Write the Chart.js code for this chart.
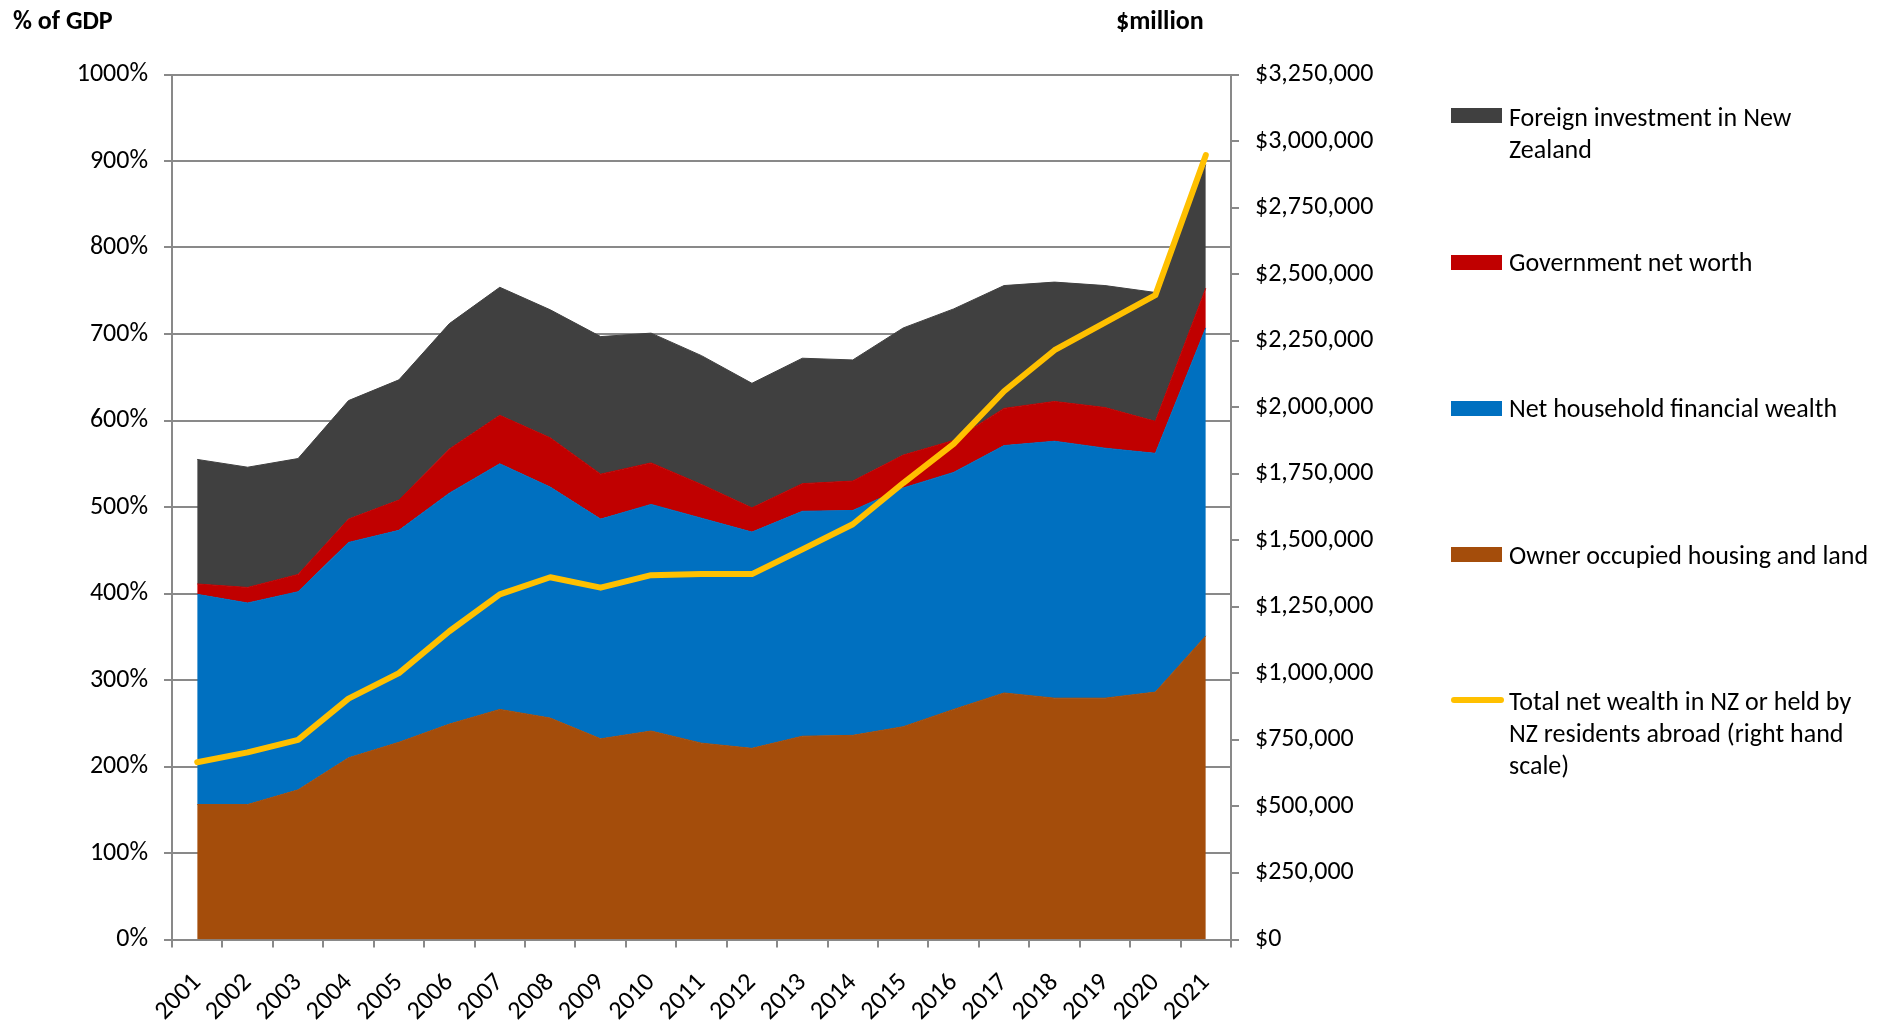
<!DOCTYPE html>
<html>
<head>
<meta charset="utf-8">
<script src="https://cdn.jsdelivr.net/npm/chart.js@4.4.1/dist/chart.umd.min.js"></script>
<style>
    body { margin: 0; background: #fff; }
    #wrap { position: relative; width: 1883px; height: 1024px; font-family: Carlito, "Liberation Sans Narrow", "Open Sans", sans-serif; color: #000; }
    #chart { position: absolute; left: 0; top: 0; }
    .title { position: absolute; top: 4px; font-size: 26px; line-height: 32px; font-weight: bold; }
    .leg-box { position: absolute; left: 1451px; width: 51px; height: 15px; }
    .leg-line { position: absolute; left: 1451px; width: 53px; height: 6px; border-radius: 3px; background: #FFC000; }
    .leg-text { position: absolute; left: 1509px; font-size: 26px; line-height: 32px; white-space: nowrap; }
</style>
</head>
<body>
<div id="wrap">
    <canvas id="chart" width="1883" height="1024"></canvas>
    <div class="title" style="left:13px">% of GDP</div>
    <div class="title" style="left:1116px">$million</div>

    <div class="leg-box" style="top:108px; background:#404040"></div>
    <div class="leg-text" style="top:101px">Foreign investment in New<br>Zealand</div>
    <div class="leg-box" style="top:255px; background:#C00000"></div>
    <div class="leg-text" style="top:246px">Government net worth</div>
    <div class="leg-box" style="top:401px; background:#0070C0"></div>
    <div class="leg-text" style="top:392px">Net household financial wealth</div>
    <div class="leg-box" style="top:547px; background:#A44D0B"></div>
    <div class="leg-text" style="top:539px">Owner occupied housing and land</div>
    <div class="leg-line" style="top:697px"></div>
    <div class="leg-text" style="top:685px">Total net wealth in NZ or held by<br>NZ residents abroad (right hand<br>scale)</div>
</div>
<script>
// Categories
const years = ['2001', '2002', '2003', '2004', '2005', '2006', '2007', '2008', '2009', '2010', '2011',
               '2012', '2013', '2014', '2015', '2016', '2017', '2018', '2019', '2020', '2021'];

// Stacked areas, % of GDP
const ownerHousing = [156, 156, 173, 210, 228, 249, 266, 256, 232, 241, 227, 221, 235, 236, 246, 266, 285, 279, 279, 286, 351];
const householdFinancial = [243, 233, 229, 249, 245, 267, 284, 267, 254, 262, 260, 250, 260, 260, 276, 274, 286, 297, 289, 276, 356];
const governmentNetWorth = [12, 18, 20, 27, 35, 51, 56, 57, 52, 48, 39, 28, 32, 34, 38, 37, 43, 46, 47, 37, 46];
const foreignInvestment = [144, 139, 134, 137, 139, 145, 148, 148, 159, 150, 149, 144, 145, 140, 147, 152, 142, 138, 141, 149, 143];

// Line, $million (right hand scale)
const totalNetWealth = [666000, 703000, 750000, 905000, 1001000, 1158000, 1297000, 1361000, 1322000, 1369000, 1373000,
                        1373000, 1466000, 1560000, 1715000, 1862000, 2060000, 2214000, 2318000, 2421000, 2947000];

// Axis limits
const pctMax = 1000;
const pctStep = 100;
const dollarMax = 3250000;
const dollarStep = 250000;

const axisGrey = '#898989';
Chart.defaults.font.family = 'Carlito, "Liberation Sans Narrow", "Open Sans", sans-serif';
Chart.defaults.font.size = 26;
Chart.defaults.color = '#000';

function area(label, data, color, fill) {
    return {
        label,
        data,
        backgroundColor: color,
        borderColor: color,
        borderWidth: 1,
        pointRadius: 0,
        tension: 0,
        fill,
        yAxisID: 'y'
    };
}

const ctx = document.getElementById('chart').getContext('2d');
new Chart(ctx, {
    type: 'line',
    data: {
        labels: years,
        datasets: [
            area('Owner occupied housing and land', ownerHousing, '#A44D0B', 'origin'),
            area('Net household financial wealth', householdFinancial, '#0070C0', '-1'),
            area('Government net worth', governmentNetWorth, '#C00000', '-1'),
            area('Foreign investment in New Zealand', foreignInvestment, '#404040', '-1'),
            {
                label: 'Total net wealth in NZ or held by NZ residents abroad (right hand scale)',
                data: totalNetWealth,
                borderColor: '#FFC000',
                borderWidth: 6,
                borderCapStyle: 'round',
                borderJoinStyle: 'round',
                pointRadius: 0,
                tension: 0,
                fill: false,
                yAxisID: 'y2',
                order: -1
            }
        ]
    },
    options: {
        responsive: false,
        animation: false,
        layout: { padding: { left: 0, top: 74.5, right: 452, bottom: 0 } },
        plugins: {
            legend: { display: false },
            tooltip: { enabled: false }
        },
        scales: {
            x: {
                offset: true,
                afterFit: (scale) => { scale.height = 84.5; },
                grid: { drawOnChartArea: false, offset: true, color: axisGrey, lineWidth: 2, tickLength: 8 },
                border: { color: axisGrey, width: 2 },
                ticks: { autoSkip: false, maxRotation: 45, minRotation: 45, padding: 20 }
            },
            y: {
                position: 'left',
                stacked: true,
                min: 0,
                max: pctMax,
                afterFit: (scale) => { scale.width = 172; },
                grid: { color: axisGrey, lineWidth: 2, tickLength: 8 },
                border: { color: axisGrey, width: 2 },
                ticks: { stepSize: pctStep, padding: 16, callback: (v) => v + '%' }
            },
            y2: {
                position: 'right',
                min: 0,
                max: dollarMax,
                afterFit: (scale) => { scale.width = 200; },
                grid: { drawOnChartArea: false, color: axisGrey, lineWidth: 2, tickLength: 8 },
                border: { color: axisGrey, width: 2 },
                ticks: { stepSize: dollarStep, padding: 16, callback: (v) => '$' + v.toLocaleString('en-US') }
            }
        }
    }
});
</script>
</body>
</html>
